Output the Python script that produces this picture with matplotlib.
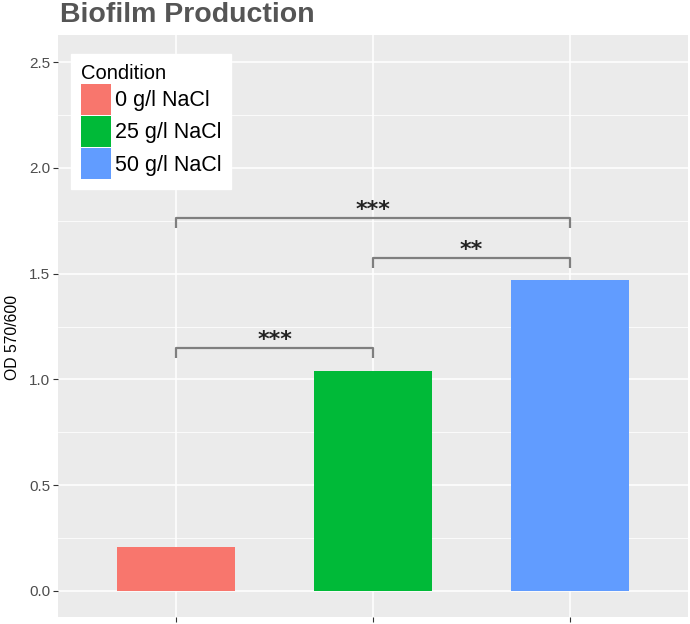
import matplotlib.pyplot as plt
from matplotlib.patches import Patch

conditions = ["0 g/l NaCl", "25 g/l NaCl", "50 g/l NaCl"]
od_values = [0.208, 1.042, 1.472]
bar_colors = ["#F8766D", "#00BA38", "#619CFF"]

# significance brackets: (left group, right group, bracket height, label)
sig_left = [0, 1, 0]
sig_right = [1, 2, 2]
sig_height = [1.15, 1.575, 1.765]
sig_label = ["***", "**", "***"]

plt.rcParams['font.family'] = ['Liberation Sans', 'DejaVu Sans']

fig = plt.figure(figsize=(6.9, 6.24), dpi=100)
ax = fig.add_axes([58 / 690, 7 / 624, 630 / 690, 582 / 624])
ax.set_facecolor("#EBEBEB")

x = list(range(len(conditions)))
ax.bar(x, od_values, width=0.6, color=bar_colors, zorder=3)

# brackets
for l, r, h, lab in zip(sig_left, sig_right, sig_height, sig_label):
    ax.plot([l, l, r, r], [h - 0.05, h, h, h - 0.05], color="#7F7F7F",
            lw=1.6, zorder=4, solid_capstyle="butt")
    ax.text((l + r) / 2, h + 0.008, lab, ha="center", va="baseline",
            fontsize=16, fontweight="bold", color="#222222",
            family="DejaVu Sans", zorder=5)

ax.set_xlim(-0.6, 2.6)
ax.set_ylim(-0.123, 2.628)
ax.set_xticks(x)
ax.set_xticklabels([])
ax.set_yticks([0, 0.5, 1.0, 1.5, 2.0, 2.5])
ax.set_yticklabels(["0.0", "0.5", "1.0", "1.5", "2.0", "2.5"])
ax.set_yticks([0.25, 0.75, 1.25, 1.75, 2.25], minor=True)
ax.grid(True, which="major", color="white", lw=1.1, zorder=0)
ax.grid(True, which="minor", axis="y", color="white", lw=0.55, zorder=0)
ax.tick_params(axis="both", which="major", length=3.5, width=0.8,
               color="#333333", labelsize=11, labelcolor="#4D4D4D", pad=2)
ax.tick_params(axis="y", which="minor", length=0)
for s in ax.spines.values():
    s.set_visible(False)

ax.set_ylabel("OD 570/600", fontsize=11.3, color="black")
ax.yaxis.set_label_coords(-0.06, 0.481)

fig.text(60 / 690, 1 - 15 / 624, "Biofilm Production", fontsize=20.5,
         fontweight="bold", color="#555555", ha="left", va="center")

handles = [Patch(facecolor=c, edgecolor="none") for c in bar_colors]
leg = ax.legend(handles, conditions, title="Condition", loc="upper left",
                bbox_to_anchor=(71 / 690, 1 - 54 / 624),
                bbox_transform=fig.transFigure, fontsize=15.5,
                title_fontsize=14.5, frameon=True, fancybox=False,
                framealpha=1, edgecolor="white", facecolor="white",
                handlelength=1.4, handleheight=1.85, labelspacing=0.05,
                handletextpad=0.2, borderpad=0.45, borderaxespad=0,
                alignment="left")
leg.set_zorder(6)

fig.savefig("out.png", dpi=100)
